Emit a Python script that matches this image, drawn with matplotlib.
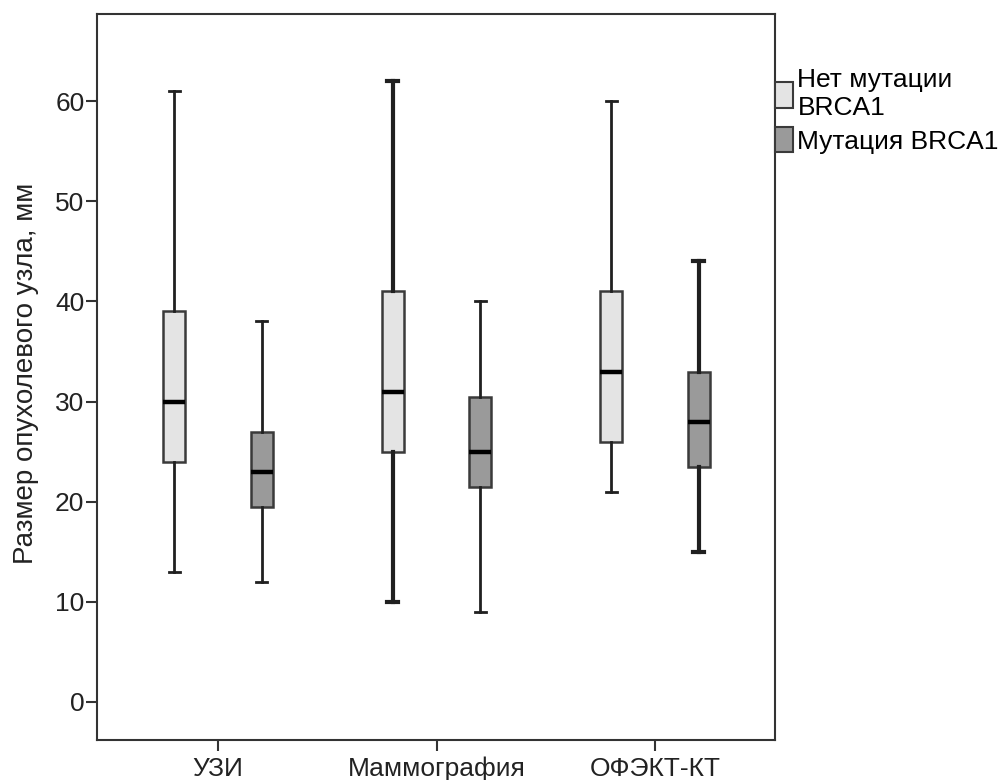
import matplotlib.pyplot as plt
from matplotlib.patches import Patch

plt.rcParams['font.family'] = ['Liberation Sans', 'DejaVu Sans']

categories = ['УЗИ', 'Маммография', 'ОФЭКТ-КТ']
groups = ['Нет мутации\nBRCA1', 'Мутация BRCA1']

# (whislo, q1, med, q3, whishi) per category
no_mut = [(13, 24, 30, 39, 61),
          (10, 25, 31, 41, 62),
          (21, 26, 33, 41, 60)]
mut = [(12, 19.5, 23, 27, 38),
       (9, 21.5, 25, 30.5, 40),
       (15, 23.5, 28, 33, 44)]

colors = ['#e4e4e4', '#9a9a9a']
edge = '#3a3a3a'


def make_stats(vals):
    lo, q1, med, q3, hi = vals
    return dict(whislo=lo, q1=q1, med=med, q3=q3, whishi=hi, fliers=[])


fig = plt.figure(figsize=(10.05, 7.8), dpi=100)
ax = fig.add_axes([0.0965, 0.0513, 0.6746, 0.9307])

whisker_lw = [[2, 2], [3, 2], [2, 3]]
for gi, (series, off) in enumerate([(no_mut, -0.2), (mut, 0.2)]):
    for ci, vals in enumerate(series):
        lw = whisker_lw[ci][gi]
        ax.bxp([make_stats(vals)], positions=[ci + off], widths=0.1,
               patch_artist=True, showfliers=False,
               boxprops=dict(facecolor=colors[gi], edgecolor=edge, linewidth=1.8),
               medianprops=dict(color='black', linewidth=3.2),
               whiskerprops=dict(color='#202020', linewidth=lw),
               capprops=dict(color='#202020', linewidth=lw),
               capwidths=0.05)

ax.set_xlim(-0.553, 2.548)
ax.set_ylim(-3.8, 68.7)
ax.set_xticks(range(len(categories)))
ax.set_xticklabels(categories)
ax.set_yticks(range(0, 70, 10))
ax.tick_params(axis='both', direction='out', length=8, width=1.5,
               color='#333333', labelsize=19, labelcolor='#222222')
ax.tick_params(axis='y', pad=1)
ax.tick_params(axis='x', pad=4)
for s in ax.spines.values():
    s.set_linewidth(1.5)
    s.set_color('#333333')

ax.set_ylabel('Размер опухолевого узла, мм', fontsize=20, color='#222222')
ax.yaxis.set_label_coords(-0.085, 0.505)

handles = [Patch(facecolor=c, edgecolor=edge, linewidth=1.5) for c in colors]
ax.legend(handles, groups, loc='upper left', bbox_to_anchor=(1.0, 0.925),
          frameon=False, fontsize=19, handlelength=0.7, handleheight=1.1,
          handletextpad=0.15, borderpad=0, borderaxespad=0, labelspacing=0.25)

fig.savefig('out.png', dpi=100)
